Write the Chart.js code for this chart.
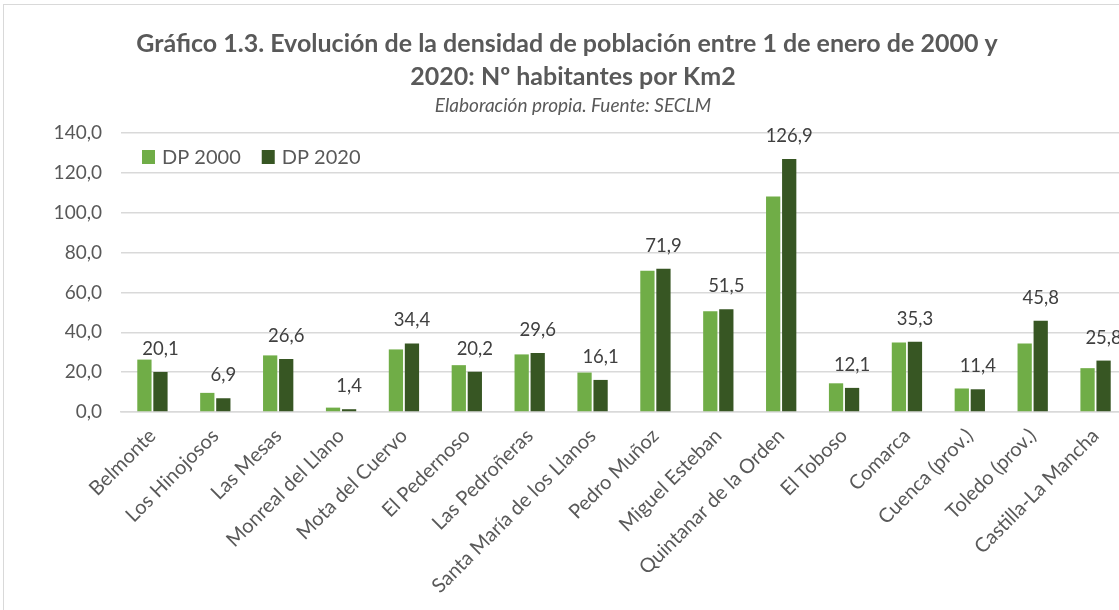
<!DOCTYPE html>
<html>
<head>
<meta charset="utf-8">
<script src="https://cdn.jsdelivr.net/npm/chart.js@4/dist/chart.umd.min.js"></script>
<style>
  html, body { margin:0; padding:0; background:#fff; overflow:hidden; }
  #wrap { position:absolute; left:0; top:0; width:1150px; height:640px; }
</style>
</head>
<body>
<div id="wrap"><canvas id="c" width="1150" height="640"></canvas></div>
<script>
const categories = ['Belmonte','Los Hinojosos','Las Mesas','Monreal del Llano','Mota del Cuervo','El Pedernoso','Las Pedroñeras','Santa María de los Llanos','Pedro Muñoz','Miguel Esteban','Quintanar de la Orden','El Toboso','Comarca','Cuenca (prov.)','Toledo (prov.)','Castilla-La Mancha']
const dp2000 = [26.3, 9.6, 28.4, 2.2, 31.4, 23.5, 28.9, 19.8, 70.9, 50.6, 108.1, 14.4, 34.9, 11.8, 34.4, 22.0]
const dp2020 = [20.1, 6.9, 26.6, 1.4, 34.4, 20.2, 29.6, 16.1, 71.9, 51.5, 126.9, 12.1, 35.3, 11.4, 45.8, 25.8]
const titleLines = ['Gráfico 1.3. Evolución de la densidad de población entre 1 de enero de 2000 y', '2020: Nº habitantes por Km2']
const subtitle = 'Elaboración propia. Fuente: SECLM'

const FONT = 'Lato, "Open Sans", sans-serif'
const TXT = '#595959'
const fmt = v => v.toFixed(1).replace('.', ',')

// marco, titulos y leyenda dibujados a mano
const decor = {
  id: 'decor',
  beforeDraw(chart) {
    const ctx = chart.ctx
    ctx.save()
    ctx.fillStyle = '#fff'
    ctx.fillRect(0, 0, chart.width, chart.height)
    ctx.strokeStyle = '#d9d9d9'
    ctx.lineWidth = 1
    ctx.strokeRect(3.5, 4.5, 1140, 700)
    ctx.restore()
  },
  afterDraw(chart) {
    const ctx = chart.ctx
    ctx.save()
    ctx.fillStyle = TXT
    ctx.textAlign = 'center'
    ctx.textBaseline = 'alphabetic'
    ctx.font = 'bold 25px ' + FONT
    ctx.fillText(titleLines[0], 567, 52)
    ctx.fillText(titleLines[1], 573, 85)
    ctx.font = 'italic 19px ' + FONT
    ctx.fillText(subtitle, 573, 112)

    // leyenda
    const a = chart.chartArea
    let x = a.left + 21
    const y = a.top + 24
    ctx.font = '20px ' + FONT
    ctx.textAlign = 'left'
    ctx.textBaseline = 'middle'
    chart.data.datasets.forEach(ds => {
      ctx.fillStyle = ds.backgroundColor
      ctx.fillRect(x, y - 7, 13, 14)
      ctx.fillStyle = TXT
      ctx.fillText(ds.label, x + 20, y + 1)
      x += 20 + ctx.measureText(ds.label).width + 21
    })

    // etiquetas de valor (solo DP 2020)
    const meta = chart.getDatasetMeta(1)
    ctx.fillStyle = '#404040'
    ctx.font = '18.5px ' + FONT
    ctx.textAlign = 'center'
    ctx.textBaseline = 'alphabetic'
    meta.data.forEach((bar, i) => {
      ctx.fillText(fmt(dp2020[i]), bar.x, bar.y - 17)
    })
    ctx.restore()
  }
}

new Chart(document.getElementById('c'), {
  type: 'bar',
  data: {
    labels: categories,
    datasets: [
      { label: 'DP 2000', data: dp2000, backgroundColor: '#70ad47', barPercentage: 0.89, categoryPercentage: 0.51 },
      { label: 'DP 2020', data: dp2020, backgroundColor: '#375623', barPercentage: 0.89, categoryPercentage: 0.51 }
    ]
  },
  options: {
    responsive: false,
    animation: false,
    layout: { padding: { left: 0, top: 133, right: 23, bottom: 0 } },
    plugins: { legend: { display: false }, title: { display: false }, tooltip: { enabled: false } },
    scales: {
      x: {
        grid: { display: false },
        border: { color: '#d9d9d9', width: 1.5 },
        ticks: { color: TXT, font: { family: FONT, size: 20 }, maxRotation: 45, minRotation: 45, autoSkip: false, padding: 4 },
        afterFit: s => { s.height = 228 }
      },
      y: {
        min: 0, max: 140,
        grid: { color: '#d9d9d9', lineWidth: 1.5, drawTicks: false },
        border: { display: false },
        ticks: { stepSize: 20, color: TXT, font: { family: FONT, size: 19 }, padding: 19, callback: v => fmt(v) },
        afterFit: s => { s.width = 121 }
      }
    }
  },
  plugins: [decor]
})
</script>
</body>
</html>
